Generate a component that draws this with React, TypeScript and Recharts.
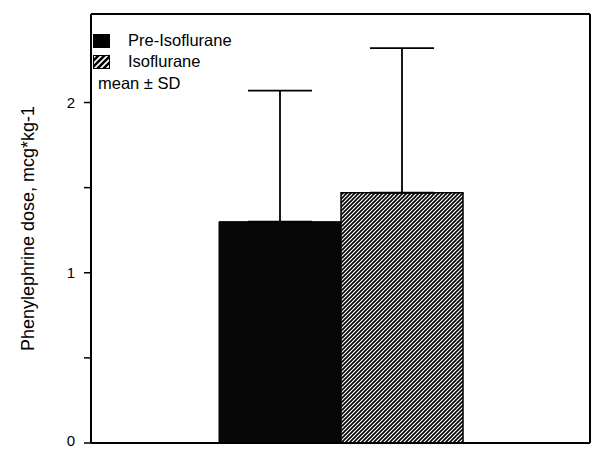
import { BarChart, Bar, XAxis, YAxis, ErrorBar, Legend } from 'recharts'

const categories = ['Phenylephrine']
const seriesNames = ['Pre-Isoflurane', 'Isoflurane']
const preMean = [1.3]
const preSD = [0.77]
const isoMean = [1.47]
const isoSD = [0.85]
const yTicks = [0, 0.5, 1, 1.5, 2]
const yLabel = 'Phenylephrine dose, mcg*kg-1'
const noteText = 'mean ± SD'

const FONT = '"Liberation Sans", Arial, Helvetica, sans-serif'

const data = categories.map((name, i) => ({
  name,
  pre: preMean[i],
  preErr: [0, preSD[i]],
  iso: isoMean[i],
  isoErr: [0, isoSD[i]],
}))

// only whole numbers get a label, the 0 one is nudged up so it stays on the page
const YTick = ({ x, y, payload }: any) => {
  const v = payload.value as number
  if (!Number.isInteger(v)) return null
  return (
    <text x={x} y={v === 0 ? y - 2 : y} dy={5} textAnchor="end" fontSize={15} fontFamily={FONT} fill="#000">
      {v}
    </text>
  )
}

const LegendBox = () => (
  <div style={{ fontFamily: FONT, fontSize: 16.5, color: '#000', lineHeight: '21px' }}>
    {seriesNames.map((n, i) => (
      <div key={n} style={{ display: 'flex', alignItems: 'center', height: 21 }}>
        <svg width={17} height={14} style={{ marginRight: 18 }}>
          <defs>
            <pattern id="legHatch" width="6" height="6" patternUnits="userSpaceOnUse">
              <rect width="6" height="6" fill="#fff" />
              <path d="M0,6 L6,0 M-3,3 L3,-3 M3,9 L9,3" stroke="#000" strokeWidth={2.6} />
            </pattern>
          </defs>
          <rect x={0} y={0} width={17} height={14} fill={i === 0 ? '#000' : 'url(#legHatch)'} stroke="#000" strokeWidth={2} />
        </svg>
        <span>{n}</span>
      </div>
    ))}
    <div style={{ height: 23, paddingLeft: 5, display: 'flex', alignItems: 'center' }}>{noteText}</div>
  </div>
)

export default function App() {
  return (
    <div style={{ width: 592, height: 449, background: '#fff' }}>
      <style>{`body{margin:0;background:#fff}`}</style>
      <BarChart
        width={592}
        height={449}
        data={data}
        margin={{ top: 13, right: 1, bottom: 5, left: 0 }}
        barSize={122}
        barGap={0}
      >
        <defs>
          <pattern id="hatch" width="4" height="4" patternUnits="userSpaceOnUse">
            <rect width="4" height="4" fill="#fff" />
            <path d="M0,4 L4,0 M-2,2 L2,-2 M2,6 L6,2" stroke="#000" strokeWidth={1.6} />
          </pattern>
        </defs>
        <XAxis
          dataKey="name"
          height={1}
          tick={false}
          tickLine={false}
          axisLine={{ stroke: '#000', strokeWidth: 2 }}
        />
        <XAxis
          xAxisId="top"
          dataKey="name"
          orientation="top"
          height={1}
          tick={false}
          tickLine={false}
          axisLine={{ stroke: '#000', strokeWidth: 2 }}
        />
        <YAxis
          width={91}
          domain={[0, 2.52]}
          allowDataOverflow
          ticks={yTicks}
          interval={0}
          tickSize={7}
          tickMargin={9}
          tick={<YTick />}
          tickLine={{ stroke: '#000', strokeWidth: 1.5 }}
          axisLine={{ stroke: '#000', strokeWidth: 2 }}
          label={{
            value: yLabel,
            angle: -90,
            position: 'center',
            dx: -18,
            style: { fontSize: 18, fill: '#000', fontFamily: FONT, textAnchor: 'middle' },
          }}
        />
        <YAxis
          yAxisId="right"
          orientation="right"
          width={1}
          tick={false}
          tickLine={false}
          axisLine={{ stroke: '#000', strokeWidth: 2 }}
        />
        <Legend
          layout="vertical"
          align="center"
          verticalAlign="middle"
          wrapperStyle={{ left: 93, top: 30, width: 'auto' }}
          content={() => <LegendBox />}
        />
        <Bar dataKey="pre" name={seriesNames[0]} fill="#070707" stroke="#000" strokeWidth={1} isAnimationActive={false}>
          <ErrorBar dataKey="preErr" width={32} stroke="#000" strokeWidth={1.8} isAnimationActive={false} />
        </Bar>
        <Bar dataKey="iso" name={seriesNames[1]} fill="url(#hatch)" stroke="#000" strokeWidth={1.5} isAnimationActive={false}>
          <ErrorBar dataKey="isoErr" width={32} stroke="#000" strokeWidth={1.8} isAnimationActive={false} />
        </Bar>
      </BarChart>
    </div>
  )
}
